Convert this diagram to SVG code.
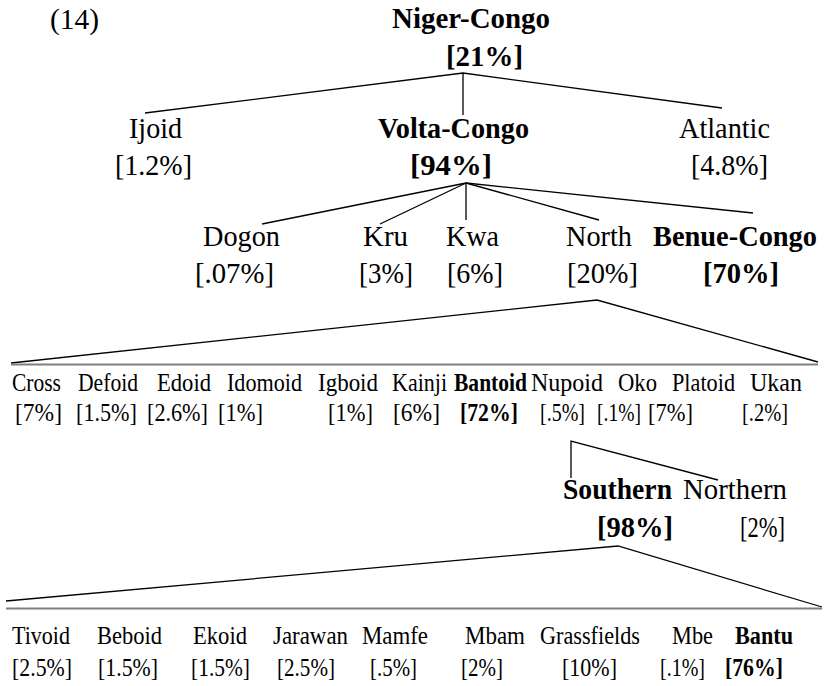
<svg xmlns="http://www.w3.org/2000/svg" width="824" height="686" viewBox="0 0 824 686">
<style>
.t{font-family:"Liberation Serif",Tinos,"Times New Roman",serif;fill:#000}
.L{font-size:30px}
.S{font-size:25px}
.b{font-weight:bold}
.c{stroke:#000;stroke-width:1.3;fill:none}
.h{stroke:#808080;stroke-width:2;fill:none}
</style>
<rect width="824" height="686" fill="#fff"/>
<text class="t L" x="50" y="29" textLength="49" lengthAdjust="spacingAndGlyphs">(14)</text>
<g id="connectors">
<polyline class="c" points="145,113 463,73 722,108"/>
<line class="c" x1="463" y1="73" x2="463" y2="115"/>
<line class="c" x1="466" y1="183" x2="262" y2="224"/>
<line class="c" x1="466" y1="183" x2="380" y2="224"/>
<line class="c" x1="466" y1="183" x2="466" y2="220"/>
<line class="c" x1="466" y1="183" x2="599" y2="220"/>
<line class="c" x1="466" y1="183" x2="753" y2="213"/>
<polyline class="c" points="11,363 597,300 818,362"/>
<line class="h" x1="11" y1="364.5" x2="818" y2="364.5"/>
<polyline class="c" points="571,478 571,441 718,480"/>
<polyline class="c" points="6,601 618,546 822,607"/>
<line class="h" x1="6" y1="608.5" x2="822" y2="608.5"/>
</g>
<g id="niger-congo"><text class="t L b" x="392" y="28" textLength="158" lengthAdjust="spacingAndGlyphs">Niger-Congo</text><text class="t L b" x="446" y="66" textLength="77" lengthAdjust="spacingAndGlyphs">[21%]</text></g>
<g id="ijoid"><text class="t L" x="129" y="138" textLength="53" lengthAdjust="spacingAndGlyphs">Ijoid</text><text class="t L" x="115" y="175" textLength="77" lengthAdjust="spacingAndGlyphs">[1.2%]</text></g>
<g id="volta-congo"><text class="t L b" x="378" y="138" textLength="151" lengthAdjust="spacingAndGlyphs">Volta-Congo</text><text class="t L b" x="410" y="175" textLength="82" lengthAdjust="spacingAndGlyphs">[94%]</text></g>
<g id="atlantic"><text class="t L" x="679" y="138" textLength="91" lengthAdjust="spacingAndGlyphs">Atlantic</text><text class="t L" x="691" y="175" textLength="77" lengthAdjust="spacingAndGlyphs">[4.8%]</text></g>
<g id="dogon"><text class="t L" x="203" y="246" textLength="77" lengthAdjust="spacingAndGlyphs">Dogon</text><text class="t L" x="195" y="283" textLength="79" lengthAdjust="spacingAndGlyphs">[.07%]</text></g>
<g id="kru"><text class="t L" x="363" y="246" textLength="45" lengthAdjust="spacingAndGlyphs">Kru</text><text class="t L" x="359" y="283" textLength="54" lengthAdjust="spacingAndGlyphs">[3%]</text></g>
<g id="kwa"><text class="t L" x="446" y="246" textLength="53" lengthAdjust="spacingAndGlyphs">Kwa</text><text class="t L" x="447" y="283" textLength="56" lengthAdjust="spacingAndGlyphs">[6%]</text></g>
<g id="north"><text class="t L" x="566" y="246" textLength="66" lengthAdjust="spacingAndGlyphs">North</text><text class="t L" x="567" y="283" textLength="71" lengthAdjust="spacingAndGlyphs">[20%]</text></g>
<g id="benue-congo"><text class="t L b" x="653" y="246" textLength="164" lengthAdjust="spacingAndGlyphs">Benue-Congo</text><text class="t L b" x="703" y="283" textLength="76" lengthAdjust="spacingAndGlyphs">[70%]</text></g>
<g id="cross"><text class="t S" x="12" y="391" textLength="49" lengthAdjust="spacingAndGlyphs">Cross</text><text class="t S" x="15" y="421" textLength="47" lengthAdjust="spacingAndGlyphs">[7%]</text></g>
<g id="defoid"><text class="t S" x="78" y="391" textLength="60" lengthAdjust="spacingAndGlyphs">Defoid</text><text class="t S" x="76" y="421" textLength="61" lengthAdjust="spacingAndGlyphs">[1.5%]</text></g>
<g id="edoid"><text class="t S" x="157" y="391" textLength="54" lengthAdjust="spacingAndGlyphs">Edoid</text><text class="t S" x="147" y="421" textLength="61" lengthAdjust="spacingAndGlyphs">[2.6%]</text></g>
<g id="idomoid"><text class="t S" x="227" y="391" textLength="75" lengthAdjust="spacingAndGlyphs">Idomoid</text><text class="t S" x="218" y="421" textLength="45" lengthAdjust="spacingAndGlyphs">[1%]</text></g>
<g id="igboid"><text class="t S" x="318" y="391" textLength="60" lengthAdjust="spacingAndGlyphs">Igboid</text><text class="t S" x="328" y="421" textLength="45" lengthAdjust="spacingAndGlyphs">[1%]</text></g>
<g id="kainji"><text class="t S" x="392" y="391" textLength="55" lengthAdjust="spacingAndGlyphs">Kainji</text><text class="t S" x="393" y="421" textLength="47" lengthAdjust="spacingAndGlyphs">[6%]</text></g>
<g id="bantoid"><text class="t S b" x="454" y="391" textLength="73" lengthAdjust="spacingAndGlyphs">Bantoid</text><text class="t S b" x="460" y="421" textLength="58" lengthAdjust="spacingAndGlyphs">[72%]</text></g>
<g id="nupoid"><text class="t S" x="531" y="391" textLength="72" lengthAdjust="spacingAndGlyphs">Nupoid</text><text class="t S" x="540" y="421" textLength="45" lengthAdjust="spacingAndGlyphs">[.5%]</text></g>
<g id="oko"><text class="t S" x="618" y="391" textLength="39" lengthAdjust="spacingAndGlyphs">Oko</text><text class="t S" x="597" y="421" textLength="44" lengthAdjust="spacingAndGlyphs">[.1%]</text></g>
<g id="platoid"><text class="t S" x="672" y="391" textLength="63" lengthAdjust="spacingAndGlyphs">Platoid</text><text class="t S" x="648" y="421" textLength="45" lengthAdjust="spacingAndGlyphs">[7%]</text></g>
<g id="ukan"><text class="t S" x="750" y="391" textLength="52" lengthAdjust="spacingAndGlyphs">Ukan</text><text class="t S" x="742" y="421" textLength="46" lengthAdjust="spacingAndGlyphs">[.2%]</text></g>
<g id="southern"><text class="t L b" x="563" y="499" textLength="109" lengthAdjust="spacingAndGlyphs">Southern</text><text class="t L b" x="597" y="537" textLength="76" lengthAdjust="spacingAndGlyphs">[98%]</text></g>
<g id="northern"><text class="t L" x="683" y="499" textLength="104" lengthAdjust="spacingAndGlyphs">Northern</text><text class="t L" x="740" y="537" textLength="45" lengthAdjust="spacingAndGlyphs">[2%]</text></g>
<g id="tivoid"><text class="t S" x="12" y="644" textLength="58" lengthAdjust="spacingAndGlyphs">Tivoid</text><text class="t S" x="12" y="676" textLength="60" lengthAdjust="spacingAndGlyphs">[2.5%]</text></g>
<g id="beboid"><text class="t S" x="97" y="644" textLength="65" lengthAdjust="spacingAndGlyphs">Beboid</text><text class="t S" x="98" y="676" textLength="60" lengthAdjust="spacingAndGlyphs">[1.5%]</text></g>
<g id="ekoid"><text class="t S" x="193" y="644" textLength="54" lengthAdjust="spacingAndGlyphs">Ekoid</text><text class="t S" x="191" y="676" textLength="59" lengthAdjust="spacingAndGlyphs">[1.5%]</text></g>
<g id="jarawan"><text class="t S" x="273" y="644" textLength="75" lengthAdjust="spacingAndGlyphs">Jarawan</text><text class="t S" x="277" y="676" textLength="58" lengthAdjust="spacingAndGlyphs">[2.5%]</text></g>
<g id="mamfe"><text class="t S" x="362" y="644" textLength="66" lengthAdjust="spacingAndGlyphs">Mamfe</text><text class="t S" x="370" y="676" textLength="47" lengthAdjust="spacingAndGlyphs">[.5%]</text></g>
<g id="mbam"><text class="t S" x="465" y="644" textLength="60" lengthAdjust="spacingAndGlyphs">Mbam</text><text class="t S" x="461" y="676" textLength="42" lengthAdjust="spacingAndGlyphs">[2%]</text></g>
<g id="grassfields"><text class="t S" x="540" y="644" textLength="100" lengthAdjust="spacingAndGlyphs">Grassfields</text><text class="t S" x="562" y="676" textLength="55" lengthAdjust="spacingAndGlyphs">[10%]</text></g>
<g id="mbe"><text class="t S" x="672" y="644" textLength="41" lengthAdjust="spacingAndGlyphs">Mbe</text><text class="t S" x="660" y="676" textLength="45" lengthAdjust="spacingAndGlyphs">[.1%]</text></g>
<g id="bantu"><text class="t S b" x="735" y="644" textLength="58" lengthAdjust="spacingAndGlyphs">Bantu</text><text class="t S b" x="725" y="676" textLength="58" lengthAdjust="spacingAndGlyphs">[76%]</text></g>
</svg>
